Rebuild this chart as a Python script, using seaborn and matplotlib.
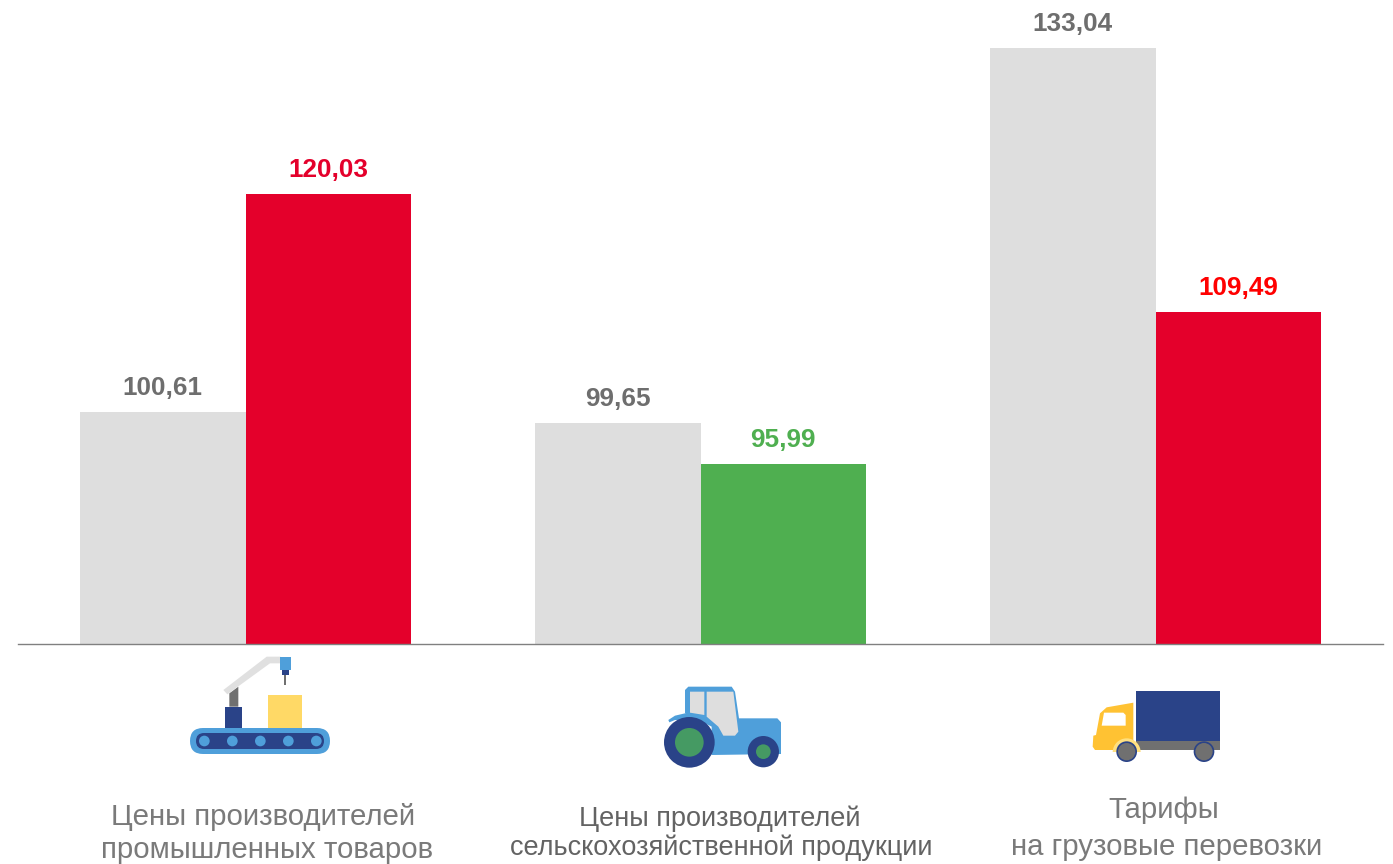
import pandas as pd
import seaborn as sns
import matplotlib.pyplot as plt
from matplotlib.patches import Circle, Polygon, FancyBboxPatch

# values
categories = ['Цены производителей\nпромышленных товаров',
              'Цены производителей\nсельскохозяйственной продукции',
              'Тарифы\nна грузовые перевозки']
prev_values = [100.61, 99.65, 133.04]
curr_values = [120.03, 95.99, 109.49]
curr_colors = ['#E4002B', '#4FAF50', '#E4002B']
curr_label_colors = ['#E4002B', '#4FAF50', '#FF0000']
GRAY_BAR = '#DEDEDE'
GRAY_TEXT = '#6E6E6E'

LIGHT_BLUE = '#4F9FDA'
NAVY = '#2A4388'
MID_GRAY = '#707070'
PALE_GRAY = '#E0E0E0'

sns.set_theme(style='white')
plt.rcParams['font.family'] = ['Liberation Sans', 'DejaVu Sans']

fig = plt.figure(figsize=(13.93, 8.64), dpi=100)
W, H = 1393, 864
ax = fig.add_axes([18 / W, (H - 644) / H, 1365 / W, 644 / H])

df = pd.DataFrame({
    'category': categories * 2,
    'series': ['prev'] * 3 + ['curr'] * 3,
    'value': prev_values + curr_values,
})
sns.barplot(data=df, x='category', y='value', hue='series', ax=ax,
            palette={'prev': GRAY_BAR, 'curr': '#E4002B'},
            width=0.7275, gap=0, legend=False, saturation=1, linewidth=0)

# the second series changes colour from bar to bar
for bar, c in zip(ax.containers[1], curr_colors):
    bar.set_facecolor(c)

ax.set_xlim(-0.5, 2.5)
ax.set_ylim(79.92, 79.92 + 644 / 11.225)
ax.set_xlabel('')
ax.set_ylabel('')
ax.set_xticks([])
ax.set_yticks([])
for side in ['top', 'left', 'right']:
    ax.spines[side].set_visible(False)
ax.spines['bottom'].set_color('#808080')
ax.spines['bottom'].set_linewidth(1)


def fmt(v):
    return f'{v:.2f}'.replace('.', ',')


ax.bar_label(ax.containers[0], labels=[fmt(v) for v in prev_values], padding=8.4,
             fontsize=18.8, fontweight='bold', color=GRAY_TEXT, clip_on=False)
texts = ax.bar_label(ax.containers[1], labels=[fmt(v) for v in curr_values], padding=8.4,
                     fontsize=18.8, fontweight='bold', clip_on=False)
for t, c in zip(texts, curr_label_colors):
    t.set_color(c)

# overlay in pixel coordinates for the icons and the captions
ov = fig.add_axes([0, 0, 1, 1], facecolor='none')
ov.set_xlim(0, W)
ov.set_ylim(H, 0)
ov.axis('off')

caption_x = [(263.5, 267.5), (720, 721.5), (1163.5, 1167)]
caption_y = [(817, 850), (819, 848), (810, 847)]
caption_size = [21.2, 19.5, 21.2]
caption_color = ['#7A7A7A', '#636363', '#7A7A7A']
for cat, xs, ys, size, col in zip(categories, caption_x, caption_y, caption_size, caption_color):
    for line, x, y in zip(cat.split('\n'), xs, ys):
        ov.text(x, y, line, ha='center', va='center', fontsize=size, color=col)


def zoomed(points, x0, y0):
    # icon outlines were traced on 3x crops
    return [(x0 + px / 3, y0 + py / 3) for px, py in points]


def poly(points, x0, y0, color, z=3):
    ov.add_patch(Polygon(zoomed(points, x0, y0), closed=True, fc=color, ec='none', zorder=z))


def circ(cx, cy, r, x0, y0, color, z=3):
    ov.add_patch(Circle((x0 + cx / 3, y0 + cy / 3), r / 3, fc=color, ec='none', zorder=z))


# conveyor
x0, y0 = 170, 645
ov.add_patch(FancyBboxPatch((190, 728), 140, 26, boxstyle='round,pad=0,rounding_size=13',
                            fc=LIGHT_BLUE, ec='none', zorder=3))
ov.add_patch(FancyBboxPatch((196, 733), 128, 16, boxstyle='round,pad=0,rounding_size=8',
                            fc=NAVY, ec='none', zorder=4))
for cx in [103, 187, 271, 355, 439]:
    circ(cx, 288, 16, x0, y0, LIGHT_BLUE, z=5)
poly([(165, 185), (217, 185), (217, 248), (165, 248)], x0, y0, NAVY)
poly([(178, 185), (205, 185), (205, 125), (178, 145)], x0, y0, MID_GRAY)
poly([(160, 135), (290, 35), (332, 35), (332, 55), (300, 55), (172, 148)], x0, y0, PALE_GRAY)
poly([(330, 35), (362, 35), (362, 75), (330, 75)], x0, y0, LIGHT_BLUE)
poly([(335, 75), (357, 75), (357, 90), (335, 90)], x0, y0, NAVY)
poly([(343, 90), (348, 90), (348, 120), (343, 120)], x0, y0, MID_GRAY)
poly([(295, 150), (397, 150), (397, 248), (295, 248)], x0, y0, '#FFD966')

# tractor
x0, y0 = 640, 670
poly([(135, 130), (135, 60), (145, 50), (275, 50), (285, 65), (297, 145), (412, 145),
      (423, 157), (423, 252), (215, 255), (215, 170), (135, 130)], x0, y0, LIGHT_BLUE)
poly([(150, 65), (193, 65), (193, 135), (150, 128)], x0, y0, '#DEDEDE', z=4)
poly([(200, 65), (280, 65), (295, 185), (285, 197), (250, 197), (235, 170), (200, 140)],
     x0, y0, '#DEDEDE', z=4)
poly([(85, 150), (105, 137), (135, 130), (170, 130), (200, 142), (180, 155), (105, 150), (88, 157)],
     x0, y0, LIGHT_BLUE)
circ(148, 217, 76, x0, y0, NAVY, z=5)
circ(148, 217, 43, x0, y0, '#459A63', z=6)
circ(370, 245, 47, x0, y0, NAVY, z=5)
circ(370, 245, 22, x0, y0, '#459A63', z=6)

# truck
x0, y0 = 1080, 675
poly([(167, 47), (421, 47), (421, 197), (167, 197)], x0, y0, NAVY)
poly([(167, 197), (421, 197), (421, 225), (167, 225)], x0, y0, MID_GRAY)
poly([(160, 83), (160, 225), (45, 225), (38, 215), (40, 182), (48, 180), (60, 115), (80, 97)],
     x0, y0, '#FFC233')
poly([(72, 113), (130, 113), (137, 120), (137, 152), (65, 152)], x0, y0, 'white', z=4)
circ(140, 232, 42, x0, y0, '#FFE080', z=4)
poly([(90, 232), (190, 232), (190, 280), (90, 280)], x0, y0, 'white', z=4)
for cx in [140, 372]:
    circ(cx, 230, 31, x0, y0, NAVY, z=5)
    circ(cx, 230, 26, x0, y0, MID_GRAY, z=6)

fig.savefig('out.png', dpi=100)
